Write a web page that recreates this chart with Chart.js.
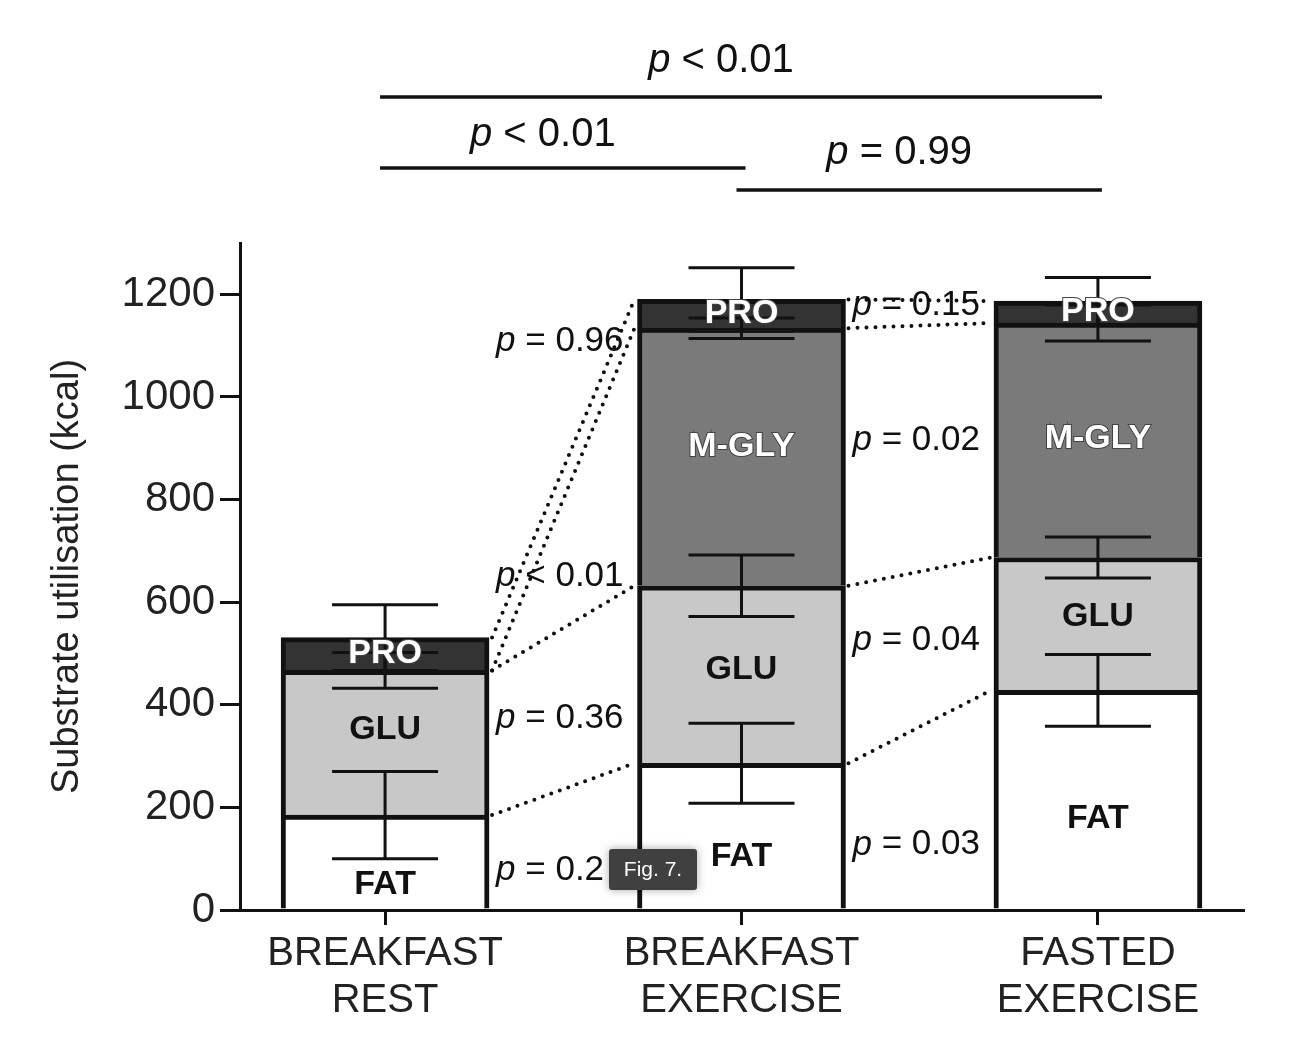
<!DOCTYPE html>
<html>
<head>
<meta charset="utf-8">
<script src="https://cdn.jsdelivr.net/npm/chart.js@4.4.1/dist/chart.umd.min.js"></script>
<style>
  body { margin: 0; background: #fff; }
  canvas { display: block; }
</style>
</head>
<body>
<canvas id="chart" width="1304" height="1046"></canvas>
<script>
// categories and stacked substrate values (kcal)
const categories = [['BREAKFAST', 'REST'], ['BREAKFAST', 'EXERCISE'], ['FASTED', 'EXERCISE']];
const segmentNames = ['FAT', 'GLU', 'M-GLY', 'PRO'];
const fat = [185, 286, 428];
const glu = [282, 346, 259];
const mgly = [null, 502, 457];
const pro = [64, 56, 43];
// SD of each segment (error bars drawn at the top of each segment)
const fatSd = [85, 78, 70];
const gluSd = [35, 60, 40];
const mglySd = [null, 20, 35];
const proSd = [64, 62, 46];
const yTicks = [0, 200, 400, 600, 800, 1000, 1200];

// p values between neighbouring bars, per segment (FAT, GLU, M-GLY, PRO)
const pRestVsBreakfastEx = ['= 0.2', '= 0.36', '< 0.01', '= 0.96'];
const pBreakfastExVsFastedEx = ['= 0.03', '= 0.04', '= 0.02', '= 0.15'];
// total energy comparisons
const bracketFrom = [0, 0, 1];
const bracketTo = [2, 1, 2];
const bracketP = ['< 0.01', '< 0.01', '= 0.99'];

const segments = [fat, glu, mgly, pro];
const sds = [fatSd, gluSd, mglySd, proSd];
const fills = ['#ffffff', '#c8c8c8', '#7a7a7a', '#333333'];
const labelColors = ['#111', '#111', '#fff', '#fff'];

// where the p labels sit (kcal) and bracket pixel rows
const gapLabelY = [[78, 374, 650, 1108], [127, 526, 915, 1178]];
const bracketLineY = [97, 168, 190];
const bracketTextY = [72, 146, 164];

const FONT = "'Liberation Sans', Arial, Helvetica, sans-serif";

function cumulativeTops() {
  return segments.map((seg, d) => seg.map((v, i) => {
    let s = 0;
    for (let k = 0; k <= d; k++) s += segments[k][i] || 0;
    return s;
  }));
}

function drawP(ctx, text, x, y, size, align) {
  ctx.font = 'italic ' + size + 'px ' + FONT;
  const wp = ctx.measureText('p').width;
  ctx.font = size + 'px ' + FONT;
  const rest = ' ' + text;
  const wr = ctx.measureText(rest).width;
  let start = x;
  if (align === 'center') start = x - (wp + wr) / 2;
  ctx.textAlign = 'left';
  ctx.font = 'italic ' + size + 'px ' + FONT;
  ctx.fillText('p', start, y);
  ctx.font = size + 'px ' + FONT;
  ctx.fillText(rest, start + wp, y);
}

const overlay = {
  id: 'overlay',
  afterDatasetsDraw(chart) {
    const { ctx, scales: { x, y } } = chart;
    const tops = cumulativeTops();
    const base = chart.getDatasetMeta(0).data;
    ctx.save();

    // error bars
    ctx.strokeStyle = '#111';
    ctx.lineWidth = 3;
    ctx.setLineDash([]);
    const cap = 53;
    segments.forEach((seg, d) => {
      seg.forEach((v, i) => {
        if (v == null) return;
        const cx = x.getPixelForValue(i);
        const yHi = y.getPixelForValue(tops[d][i] + sds[d][i]);
        const yLo = y.getPixelForValue(tops[d][i] - sds[d][i]);
        ctx.beginPath();
        ctx.moveTo(cx, yHi); ctx.lineTo(cx, yLo);
        ctx.moveTo(cx - cap, yHi); ctx.lineTo(cx + cap, yHi);
        ctx.moveTo(cx - cap, yLo); ctx.lineTo(cx + cap, yLo);
        ctx.stroke();
      });
    });

    // segment labels
    ctx.textAlign = 'center';
    ctx.textBaseline = 'middle';
    ctx.font = 'bold 34px ' + FONT;
    segments.forEach((seg, d) => {
      seg.forEach((v, i) => {
        if (v == null) return;
        const cx = x.getPixelForValue(i);
        let ly;
        if (d === segments.length - 1) {
          ly = y.getPixelForValue(tops[d][i] - v / 2);
        } else {
          let prev = d - 1;
          while (prev >= 0 && segments[prev][i] == null) prev--;
          const lower = prev < 0 ? 0 : tops[prev][i] + sds[prev][i];
          const upper = tops[d][i] - sds[d][i];
          ly = (y.getPixelForValue(lower) + y.getPixelForValue(upper)) / 2;
        }
        if (labelColors[d] === '#fff') {
          ctx.lineWidth = 2;
          ctx.strokeStyle = '#444';
          ctx.strokeText(segmentNames[d], cx, ly);
        }
        ctx.fillStyle = labelColors[d];
        ctx.fillText(segmentNames[d], cx, ly);
      });
    });

    // p values between bars
    ctx.fillStyle = '#111';
    ctx.textBaseline = 'middle';
    [pRestVsBreakfastEx, pBreakfastExVsFastedEx].forEach((ps, g) => {
      const right = base[g].x + base[g].width / 2;
      ps.forEach((t, d) => {
        drawP(ctx, t, right + 7, y.getPixelForValue(gapLabelY[g][d]), 35, 'left');
      });
    });

    // dotted connectors between segment tops
    ctx.strokeStyle = '#111';
    ctx.lineWidth = 4;
    ctx.lineCap = 'round';
    ctx.setLineDash([0, 9]);
    segments.forEach((seg, d) => {
      for (let i = 0; i < categories.length - 1; i++) {
        const x1 = base[i].x + base[i].width / 2 + 3;
        const x2 = base[i + 1].x - base[i + 1].width / 2 - 3;
        ctx.beginPath();
        ctx.moveTo(x1, y.getPixelForValue(tops[d][i]));
        ctx.lineTo(x2, y.getPixelForValue(tops[d][i + 1]));
        ctx.stroke();
      }
    });
    ctx.setLineDash([]);
    ctx.lineCap = 'butt';

    // comparison brackets above the plot
    ctx.lineWidth = 3.5;
    ctx.textBaseline = 'alphabetic';
    bracketP.forEach((t, k) => {
      const xa = x.getPixelForValue(bracketFrom[k]) - 5;
      const xb = x.getPixelForValue(bracketTo[k]) + 4;
      ctx.beginPath();
      ctx.moveTo(xa, bracketLineY[k]);
      ctx.lineTo(xb, bracketLineY[k]);
      ctx.stroke();
      drawP(ctx, t, (xa + xb) / 2 - 20, bracketTextY[k], 40, 'center');
    });

    // figure caption badge
    ctx.shadowColor = 'rgba(0,0,0,0.35)';
    ctx.shadowBlur = 8;
    ctx.fillStyle = '#404040';
    ctx.beginPath();
    ctx.roundRect(609, 849, 88, 41, 3);
    ctx.fill();
    ctx.shadowBlur = 0;
    ctx.fillStyle = '#fff';
    ctx.font = '21px ' + FONT;
    ctx.textAlign = 'center';
    ctx.textBaseline = 'middle';
    ctx.fillText('Fig. 7.', 653, 870);
    ctx.restore();
  }
};

const datasets = segments.map((seg, d) => ({
  label: segmentNames[d],
  data: seg.map((v, i) => ({ x: i, y: v })),
  backgroundColor: fills[d],
  borderColor: '#111',
  borderWidth: 5,
  borderSkipped: 'start',
  barThickness: 208
}));

new Chart(document.getElementById('chart').getContext('2d'), {
  type: 'bar',
  data: { datasets: datasets },
  plugins: [overlay],
  options: {
    responsive: false,
    animation: false,
    layout: { padding: { left: 0, right: 61, top: 243, bottom: 0 } },
    plugins: { legend: { display: false }, tooltip: { enabled: false } },
    scales: {
      x: {
        type: 'linear',
        stacked: true,
        offset: false,
        min: -0.407,
        max: 2.407,
        afterBuildTicks: (s) => { s.ticks = categories.map((c, i) => ({ value: i })); },
        afterFit: (s) => { s.height = 136; },
        grid: { offset: false, drawOnChartArea: false, color: '#111', lineWidth: 3, tickLength: 15 },
        border: { color: '#111', width: 3 },
        ticks: {
          color: '#222',
          padding: 6,
          font: { family: FONT, size: 40, lineHeight: 1.17 },
          callback: (v) => categories[v]
        }
      },
      y: {
        stacked: true,
        min: 0,
        max: 1300,
        afterBuildTicks: (s) => { s.ticks = yTicks.map(v => ({ value: v })); },
        afterFit: (s) => { s.width = 240; },
        grid: { drawOnChartArea: false, color: '#111', lineWidth: 3, tickLength: 20 },
        border: { color: '#111', width: 3 },
        ticks: {
          color: '#222',
          padding: 5,
          font: { family: FONT, size: 42 },
          callback: (v) => String(v)
        },
        title: {
          display: true,
          text: 'Substrate utilisation (kcal)',
          color: '#222',
          font: { family: FONT, size: 38 },
          padding: { top: 45, bottom: 0 }
        }
      }
    }
  }
});
</script>
</body>
</html>
